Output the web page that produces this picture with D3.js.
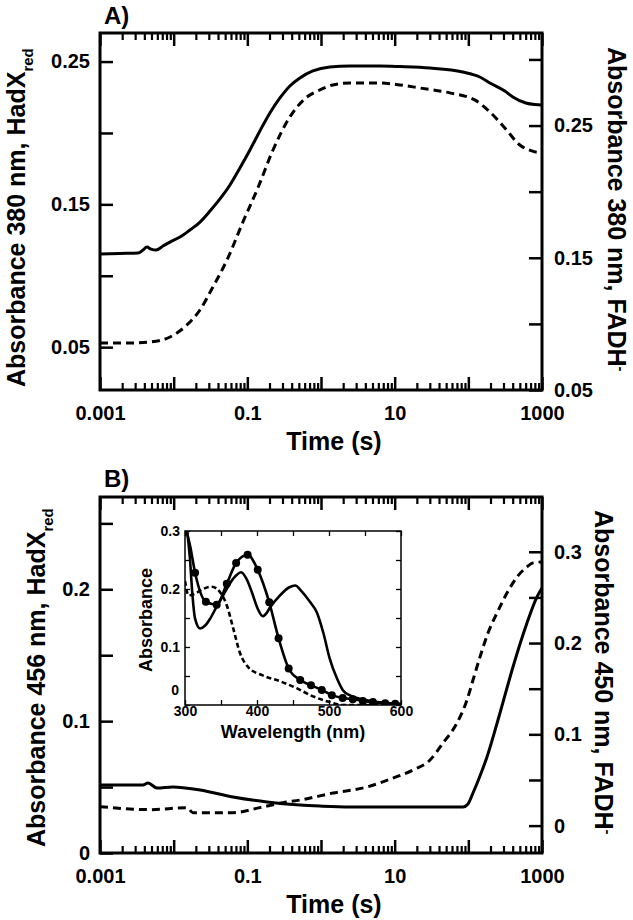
<!DOCTYPE html>
<html><head><meta charset="utf-8">
<script src="https://cdn.jsdelivr.net/npm/d3@7"></script>
<style>
body{margin:0;background:#fff}
text{font-family:"Liberation Sans",Arial,Helvetica,sans-serif;font-weight:bold;fill:#000}
</style>
</head><body>
<svg id="chart" width="633" height="920"></svg>
<script>
// ---------------- DATA ----------------
// Panel A: absorbance at 380 nm vs time (s)
const timeA_solid = [0.001,0.00187,0.00328,0.00383,0.00434,0.00492,0.00575,0.00716,0.00891,0.0122,0.0166,0.0228,0.0311,0.0425,0.0581,0.0793,0.1085,0.148,0.2025,0.277,0.378,0.517,0.776,1.32,2.47,6.3,11.8,30,84,143,196,313,402,603,799,1000];
const absA_HadX = [0.1152,0.1156,0.1159,0.1180,0.1201,0.1187,0.1180,0.1208,0.1236,0.1271,0.1320,0.1376,0.1453,0.1538,0.1636,0.1755,0.1881,0.2014,0.2140,0.2245,0.2329,0.2385,0.2434,0.2462,0.2469,0.2469,0.2465,0.2455,0.2427,0.2392,0.2350,0.2294,0.2252,0.2210,0.2199,0.2196];
const timeA_dash = [0.001,0.00255,0.00477,0.00891,0.01515,0.02275,0.0341,0.0529,0.0872,0.139,0.223,0.378,0.644,0.966,1.45,2.47,6.3,11.8,22,56,122,196,313,500,727,1000];
const absA_FADH = [0.0856,0.0856,0.0863,0.0901,0.0992,0.1105,0.1279,0.1483,0.1771,0.2028,0.2315,0.2565,0.2716,0.2769,0.2807,0.2822,0.2822,0.2807,0.2784,0.2747,0.2694,0.2603,0.2482,0.2353,0.2308,0.2293];

// Panel B: absorbance at 456 nm (HadX red) and 450 nm (FADH-) vs time (s)
const timeB_solid = [0.001,0.00383,0.00448,0.00593,0.00978,0.02275,0.0638,0.1845,0.517,0.966,2.47,11.8,84.6,98.9,115.7,143.9,179.1,268.9,403.6,625.4,854.9,1000];
const absB_HadX = [0.0516,0.0516,0.0531,0.0493,0.0501,0.0478,0.0425,0.0387,0.0364,0.0356,0.0349,0.0349,0.0349,0.0372,0.0455,0.0584,0.0728,0.1062,0.1411,0.1744,0.1942,0.2010];
const timeB_dash = [0.001,0.00477,0.01515,0.01827,0.0387,0.0638,0.148,0.304,0.519,1.455,4.21,9.49,17.7,30.2,45.3,70.1,95.9,115.7,143.9,184.8,244.8,334.6,457.5,625.4,754.4,1000];
const absB_FADH = [0.0208,0.0175,0.0197,0.0142,0.0142,0.0142,0.0197,0.0252,0.0280,0.0357,0.0423,0.0521,0.0609,0.0719,0.0905,0.1124,0.1376,0.1595,0.1847,0.2110,0.2329,0.2548,0.2724,0.2834,0.2878,0.2889];

// Inset: spectra (wavelength nm, absorbance)
const wl_oxidized = [303,307,310,314,321,328,335,345,353,367,378,386,393,401,408,413,418,432,445,453,462,474,483,492,501,511,519,530,539,567,600];
const abs_oxidized = [0.30,0.25,0.195,0.149,0.132,0.137,0.149,0.172,0.189,0.218,0.229,0.216,0.194,0.166,0.153,0.158,0.168,0.189,0.203,0.206,0.196,0.177,0.160,0.125,0.080,0.046,0.026,0.016,0.012,0.005,0.002];
const wl_marked = [302,307,314,329,344,358,371,387,401,417,430,444,460,475,490,504,519,533,547,561,578,592];
const abs_marked = [0.30,0.275,0.228,0.178,0.173,0.209,0.245,0.259,0.233,0.177,0.115,0.063,0.043,0.034,0.026,0.017,0.012,0.010,0.007,0.005,0.003,0.002];
const wl_dashed = [300,305,314,325,337,349,358,367,376,388,408,432,455,474,501,519,560,600];
const abs_dashed = [0.214,0.189,0.192,0.200,0.204,0.194,0.172,0.132,0.091,0.065,0.051,0.041,0.029,0.017,0.005,0.0,0.0,0.0];

// Tick values and labels
const timeMajorTicks = [0.001,0.01,0.1,1,10,100,1000];
const timeLabelTicks = [0.001,0.1,10,1000];
const timeTickLabels = ["0.001","0.1","10","1000"];
const yA_leftTicks = [0.05,0.10,0.15,0.20,0.25];
const yA_rightTicks = [0.05,0.10,0.15,0.20,0.25,0.30];
const yA_labelTicks = [0.05,0.15,0.25];
const yA_tickLabels = ["0.05","0.15","0.25"];
const yB_leftTicks = [0,0.05,0.10,0.15,0.20,0.25];
const yB_rightTicks = [0,0.05,0.10,0.15,0.20,0.25,0.30];
const yB_labelTicks = [0,0.1,0.2,0.3];
const yB_tickLabels = ["0","0.1","0.2","0.3"];
const inX_ticks = [300,350,400,450,500,550,600];
const inX_labelTicks = [300,400,500,600];
const inX_tickLabels = ["300","400","500","600"];
const inY_ticks = [0,0.05,0.1,0.15,0.2,0.25,0.3];
const inY_labelTicks = [0,0.1,0.2,0.3];
const inY_tickLabels = ["0","0.1","0.2","0.3"];

// ---------------- DRAW ----------------
const svg = d3.select("#chart");
const near = (a,b)=>Math.abs(a-b)<1e-9;
const fmtFrom = (vals, labels) => d => { const i = vals.findIndex(v=>near(v,d)); return i>=0 ? labels[i] : ""; };

const minorTimeTicks = [];
for (const d of [0.001,0.01,0.1,1,10,100]) for (let k=2;k<=9;k++) minorTimeTicks.push(+(k*d).toPrecision(3));

const X0 = 100, X1 = 542;
const x = d3.scaleLog().domain([0.001,1000]).range([X0,X1]);

function styleAxis(g, w){
  g.select(".domain").remove();
  g.selectAll(".tick line").attr("stroke","#000").attr("stroke-width",w);
  g.attr("color","#000");
}

function timeAxes(yTop, yBot){
  const gb = svg.append("g").attr("transform",`translate(0,${yBot})`)
    .call(d3.axisBottom(x).tickValues(timeMajorTicks).tickSize(-13).tickPadding(16).tickFormat(fmtFrom(timeLabelTicks,timeTickLabels)));
  gb.selectAll("text").attr("font-size",20);
  styleAxis(gb,2.5);
  const gbm = svg.append("g").attr("transform",`translate(0,${yBot})`)
    .call(d3.axisBottom(x).tickValues(minorTimeTicks).tickSize(-7).tickFormat(""));
  styleAxis(gbm,2.2);
  const gt = svg.append("g").attr("transform",`translate(0,${yTop})`)
    .call(d3.axisTop(x).tickValues(timeMajorTicks).tickSize(-13).tickFormat(""));
  styleAxis(gt,2.5);
  const gtm = svg.append("g").attr("transform",`translate(0,${yTop})`)
    .call(d3.axisTop(x).tickValues(minorTimeTicks).tickSize(-7).tickFormat(""));
  styleAxis(gtm,2.2);
  svg.append("text").attr("x",334).attr("y",yBot+60).attr("text-anchor","middle").attr("font-size",25).text("Time (s)");
}

function yAxis(scale, side, ticks, lblT, lbls, pad){
  const gen = side==="left" ? d3.axisLeft(scale) : d3.axisRight(scale);
  const g = svg.append("g").attr("transform",`translate(${side==="left"?X0:X1},0)`)
    .call(gen.tickValues(ticks).tickSize(-13).tickPadding(pad).tickFormat(fmtFrom(lblT,lbls)));
  g.selectAll("text").attr("font-size",20);
  styleAxis(g,2.5);
}

function frame(y0,y1){
  svg.append("rect").attr("x",X0).attr("y",y0).attr("width",X1-X0).attr("height",y1-y0)
    .attr("fill","none").attr("stroke","#000").attr("stroke-width",3);
}

function rotTitle(xb, ystart, angle, main, extra, extraDy){
  const t = svg.append("text").attr("transform",`translate(${xb},${ystart}) rotate(${angle})`)
    .attr("font-size",25).attr("text-anchor","start");
  t.append("tspan").text(main);
  t.append("tspan").attr("font-size",15).attr("dy",extraDy).text(extra);
}

const lineGen = (xs, ys, sx, sy) => d3.line().curve(d3.curveMonotoneX)
  .x((d,i)=>sx(xs[i])).y((d,i)=>sy(ys[i]))(xs);

// ----- Panel A -----
const A_top = 33, A_bot = 390;
const yAL = d3.scaleLinear().domain([0.02,0.27]).range([A_bot,A_top]);
const yAR = d3.scaleLinear().domain([0.05,0.32]).range([A_bot,A_top]);
svg.append("path").attr("d",lineGen(timeA_solid,absA_HadX,x,yAL)).attr("fill","none").attr("stroke","#000").attr("stroke-width",3).attr("stroke-linejoin","round");
svg.append("path").attr("d",lineGen(timeA_dash,absA_FADH,x,yAR)).attr("fill","none").attr("stroke","#000").attr("stroke-width",3).attr("stroke-dasharray","8,5");
timeAxes(A_top,A_bot);
yAxis(yAL,"left",yA_leftTicks,yA_labelTicks,yA_tickLabels,10);
yAxis(yAR,"right",yA_rightTicks,yA_labelTicks,yA_tickLabels,12);
frame(A_top,A_bot);
svg.append("text").attr("x",104).attr("y",24).attr("font-size",24).text("A)");
rotTitle(25,387,-90,"Absorbance 380 nm, HadX","red",8);
rotTitle(608,47,90,"Absorbance 380 nm, FADH","-",-8);

// ----- Panel B -----
const B_top = 497, B_bot = 853;
const yBL = d3.scaleLinear().domain([0,0.27]).range([B_bot,B_top]);
const yBR = d3.scaleLinear().domain([-0.03,0.36]).range([B_bot,B_top]);
svg.append("path").attr("d",lineGen(timeB_solid,absB_HadX,x,yBL)).attr("fill","none").attr("stroke","#000").attr("stroke-width",3).attr("stroke-linejoin","round");
svg.append("path").attr("d",lineGen(timeB_dash,absB_FADH,x,yBR)).attr("fill","none").attr("stroke","#000").attr("stroke-width",3).attr("stroke-dasharray","8,5");
timeAxes(B_top,B_bot);
yAxis(yBL,"left",yB_leftTicks,yB_labelTicks,yB_tickLabels,10);
yAxis(yBR,"right",yB_rightTicks,yB_labelTicks,yB_tickLabels,12);
frame(B_top,B_bot);
svg.append("text").attr("x",104).attr("y",487).attr("font-size",24).text("B)");
rotTitle(45,847,-90,"Absorbance 456 nm, HadX","red",8);
rotTitle(595,510,90,"Absorbance 450 nm, FADH","-",-8);

// ----- Inset -----
const I_l=185, I_r=401, I_t=531, I_b=705;
const xi = d3.scaleLinear().domain([300,600]).range([I_l,I_r]);
const yi = d3.scaleLinear().domain([0,0.3]).range([I_b,I_t]);
svg.append("rect").attr("x",I_l).attr("y",I_t).attr("width",I_r-I_l).attr("height",I_b-I_t).attr("fill","#fff");
svg.append("clipPath").attr("id","insetClip").append("rect").attr("x",I_l).attr("y",I_t).attr("width",I_r-I_l).attr("height",I_b-I_t);
const ig = svg.append("g").attr("clip-path","url(#insetClip)");
ig.append("path").attr("d",lineGen(wl_dashed,abs_dashed,xi,yi)).attr("fill","none").attr("stroke","#000").attr("stroke-width",2.6).attr("stroke-dasharray","5,3");
ig.append("path").attr("d",lineGen(wl_oxidized,abs_oxidized,xi,yi)).attr("fill","none").attr("stroke","#000").attr("stroke-width",2.6).attr("stroke-linejoin","round");
ig.append("path").attr("d",lineGen(wl_marked,abs_marked,xi,yi)).attr("fill","none").attr("stroke","#000").attr("stroke-width",2.6).attr("stroke-linejoin","round");
ig.selectAll("circle.m").data(wl_marked.slice(2)).join("circle").attr("class","m")
  .attr("cx",d=>xi(d)).attr("cy",(d,i)=>yi(abs_marked[i+2])).attr("r",4).attr("fill","#000");

function insetAxis(gen, tx, ty, ticks, lblT, lbls, pad){
  const g = svg.append("g").attr("transform",`translate(${tx},${ty})`)
    .call(gen.tickValues(ticks).tickSize(-5).tickPadding(pad).tickFormat(lbls?fmtFrom(lblT,lbls):""));
  g.selectAll("text").attr("font-size",14);
  styleAxis(g,1.3);
  return g;
}
insetAxis(d3.axisBottom(xi),0,I_b,inX_ticks,inX_labelTicks,inX_tickLabels,1);
insetAxis(d3.axisTop(xi),0,I_t,inX_ticks,null,null,3);
const iyl = insetAxis(d3.axisLeft(yi),I_l,0,inY_ticks,inY_labelTicks,inY_tickLabels,5);
// keep the "0" label clear of the "300" label
iyl.selectAll(".tick").filter(d=>d===0).select("text").attr("dy","-0.72em").attr("dx","-1");
insetAxis(d3.axisRight(yi),I_r,0,inY_ticks,null,null,3);
svg.append("rect").attr("x",I_l).attr("y",I_t).attr("width",I_r-I_l).attr("height",I_b-I_t)
  .attr("fill","none").attr("stroke","#000").attr("stroke-width",1.5);
svg.append("text").attr("x",293).attr("y",738).attr("text-anchor","middle").attr("font-size",18).text("Wavelength (nm)");
svg.append("text").attr("transform",`translate(152,${(I_t+I_b)/2+2}) rotate(-90)`).attr("text-anchor","middle").attr("font-size",18).text("Absorbance");
</script>
</body></html>
